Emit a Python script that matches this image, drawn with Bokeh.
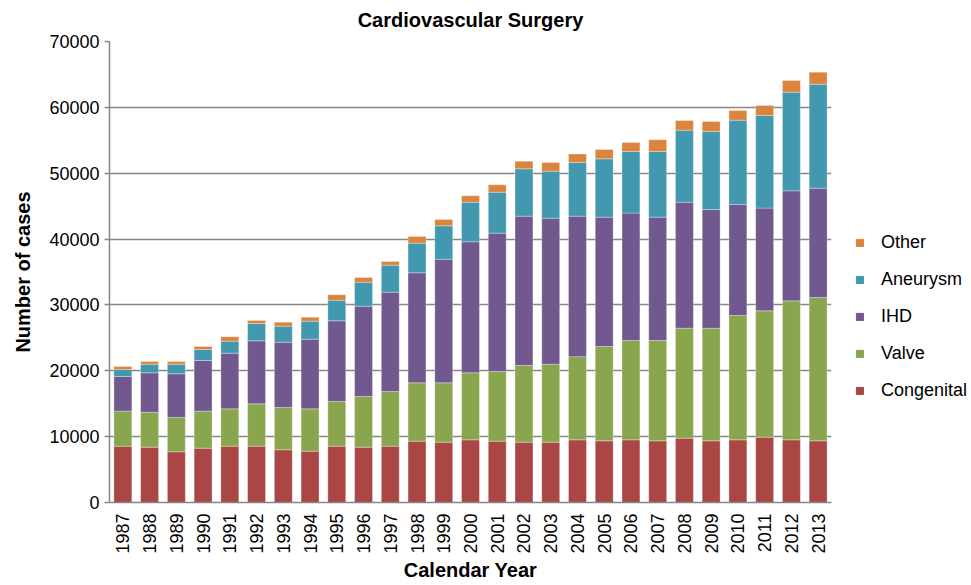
from bokeh.plotting import figure
from bokeh.models import FactorRange, Range1d, Legend, LegendItem, FixedTicker, ColumnDataSource
from bokeh.layouts import row
from bokeh.embed import file_html
from bokeh.resources import INLINE
import math

years = [str(y) for y in range(1987, 2014)]
congenital = [8550, 8400, 7700, 8250, 8550, 8550, 8000, 7800, 8550, 8400, 8550, 9310, 9160, 9510,
              9310, 9160, 9160, 9510, 9360, 9510, 9360, 9770, 9360, 9510, 9920, 9510, 9360]
valve = [5320, 5310, 5200, 5620, 5670, 6430, 6430, 6420, 6790, 7700, 8310, 8860, 9010, 10180,
         10580, 11640, 11840, 12640, 14330, 15090, 15240, 16700, 17110, 18890, 19180, 21110, 21770]
ihd = [5260, 5980, 6640, 7690, 8450, 9570, 9910, 10580, 12240, 13710, 15080, 16710, 18780, 19900,
       21010, 22680, 22180, 21330, 19640, 19340, 18730, 19130, 18020, 16850, 15600, 16710, 16600]
aneurysm = [1070, 1310, 1460, 1670, 1830, 2630, 2440, 2730, 3140, 3640, 4100, 4500, 5060, 6010,
            6220, 7180, 7130, 8150, 8850, 9360, 9970, 10940, 11850, 12810, 14070, 14980, 15790]
other = [450, 410, 400, 460, 660, 460, 600, 610, 820, 720, 560, 1010, 960, 970,
         1120, 1170, 1320, 1290, 1420, 1370, 1780, 1470, 1520, 1470, 1520, 1770, 1820]

series = ["Congenital", "Valve", "IHD", "Aneurysm", "Other"]
colors = ["#AA4643", "#89A54E", "#71588F", "#4198AF", "#DB843D"]
y_ticks = [0, 10000, 20000, 30000, 40000, 50000, 60000, 70000]

FONT = "Liberation Sans"
H = 585
W1 = 845   # chart part
W2 = 126   # legend part

source = ColumnDataSource(dict(year=years, Congenital=congenital, Valve=valve, IHD=ihd,
                               Aneurysm=aneurysm, Other=other))

p = figure(x_range=FactorRange(*years, range_padding=0), y_range=Range1d(0, 70000),
           width=W1, height=H, output_backend="svg", toolbar_location=None,
           min_border_left=109, min_border_right=W1 - 831, min_border_top=41, min_border_bottom=H - 502,
           title="Cardiovascular Surgery")

renderers = p.vbar_stack(series, x="year", width=0.67, color=colors, source=source,
                         line_color="white", line_width=0.6, line_alpha=0.5)

p.title.align = "center"
p.title.vertical_align = "top"
p.title.text_font = FONT
p.title.text_font_size = "20px"
p.title.text_font_style = "bold"
p.title.text_color = "#000000"
p.title.standoff = 17

p.xaxis.axis_label = "Calendar Year"
p.yaxis.axis_label = "Number of cases"
for ax in (p.xaxis[0], p.yaxis[0]):
    ax.axis_label_text_font = FONT
    ax.axis_label_text_font_size = "20px"
    ax.axis_label_text_font_style = "bold"
    ax.axis_label_text_color = "#000000"
    ax.major_label_text_font = FONT
    ax.major_label_text_font_size = "18px"
    ax.major_label_text_color = "#000000"
    ax.axis_line_color = "#868686"
    ax.axis_line_width = 1.5
    ax.minor_tick_line_color = None

p.xaxis.major_label_orientation = math.pi / 2
p.xaxis.major_tick_line_color = None
p.xaxis.major_label_standoff = 5
p.xaxis.axis_label_standoff = 2

p.yaxis.ticker = FixedTicker(ticks=y_ticks)
p.yaxis.formatter.use_scientific = False
p.yaxis.major_tick_line_color = "#868686"
p.yaxis.major_tick_line_width = 1.5
p.yaxis.major_tick_in = 0
p.yaxis.major_tick_out = 5
p.yaxis.major_label_standoff = 5
p.yaxis.axis_label_standoff = 12

p.xgrid.grid_line_color = None
p.ygrid.grid_line_color = "#868686"
p.ygrid.grid_line_width = 1.5
p.ygrid.ticker = FixedTicker(ticks=y_ticks)

p.outline_line_color = None
p.background_fill_color = "white"
p.border_fill_color = "white"

# Legend panel: a separate figure (frame aligned with the chart frame) so that the
# legend is not clipped by the chart frame. Its renderers are hidden; only the legend shows.
lg = figure(width=W2, height=H, output_backend="svg", toolbar_location=None,
            x_range=FactorRange(*years), y_range=Range1d(0, 70000),
            x_axis_type=None, y_axis_type=None,
            min_border_left=0, min_border_right=0, min_border_top=41, min_border_bottom=H - 502)
lg.grid.grid_line_color = None
lg.outline_line_color = None
lg.border_fill_color = "white"
lg.background_fill_color = "white"

lg_renderers = lg.vbar_stack(series, x="year", width=0.67, color=colors, source=source)
for r in lg_renderers:
    r.visible = False
items = [LegendItem(label=s, renderers=[r]) for s, r in zip(series, lg_renderers)][::-1]
legend = Legend(items=items, location=(10, 101), padding=0, margin=0,
                glyph_width=9, glyph_height=9, label_height=22, spacing=15,
                label_standoff=17, border_line_color=None, background_fill_alpha=0,
                click_policy="none",
                label_text_font=FONT, label_text_font_size="18px", label_text_color="#000000")
lg.add_layout(legend, "center")

layout = row(p, lg, spacing=0)

open("out.html", "w").write(file_html(layout, INLINE))
